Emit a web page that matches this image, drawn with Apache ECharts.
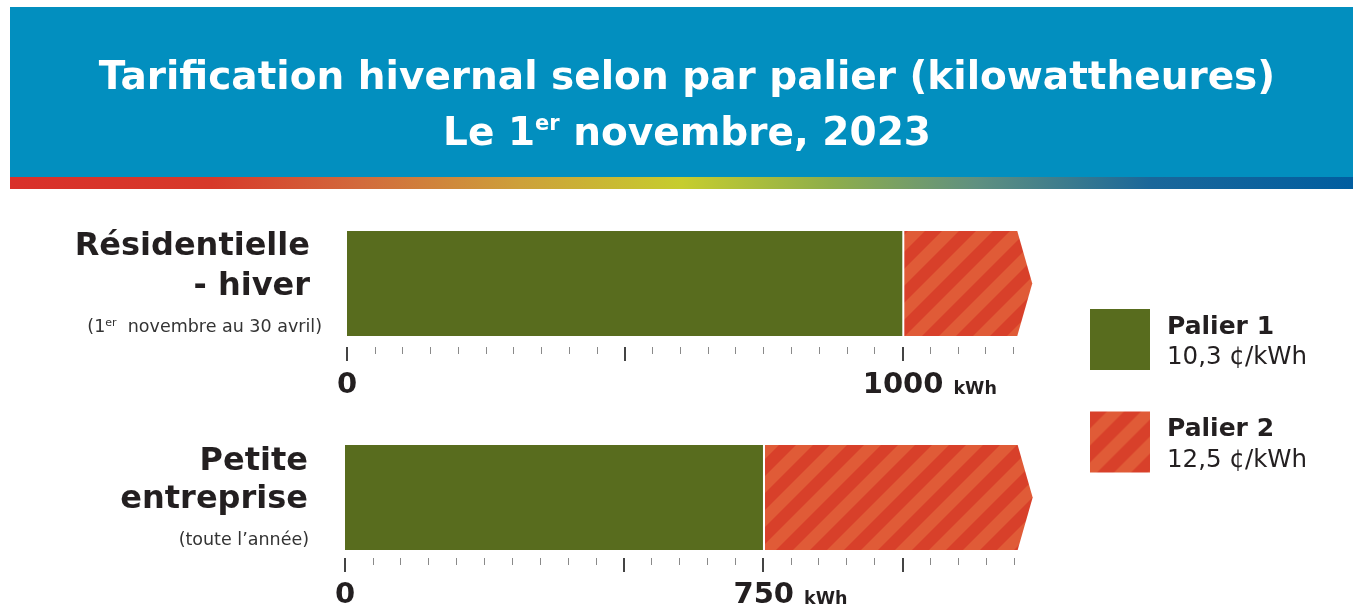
<!DOCTYPE html>
<html>
<head>
<meta charset="utf-8">
<script src="https://cdn.jsdelivr.net/npm/echarts@6/dist/echarts.min.js"></script>
<style>
  html, body { margin: 0; padding: 0; background: #fff; }
  #chart { width: 1353px; height: 611px; }
</style>
</head>
<body>
<div id="chart"></div>
<script>
// données
var categories = ['Résidentielle\n- hiver', 'Petite\nentreprise'];
var subLabels = ['(1er  novembre au 30 avril)', '(toute l’année)'];
var palier1 = [1000, 750];
var barEnd = [1207, 1207];
var tickEnd = 1200;
var tierNames = ['Palier 1', 'Palier 2'];
var tierRates = ['10,3 ¢/kWh', '12,5 ¢/kWh'];
var majorTicks = [[0, 500, 1000], [0, 500, 750, 1000]];
var tickLabels = [[0, 1000], [0, 750]];
var minorStep = 50;
var axisMax = 1300;

var green = '#586c1e';
var font = 'DejaVu Sans';

// motif hachuré pour le palier 2
function makeHatch() {
  var s = 34;
  var c = document.createElement('canvas');
  c.width = s; c.height = s;
  var g = c.getContext('2d');
  g.fillStyle = '#e05b37';
  g.fillRect(0, 0, s, s);
  g.fillStyle = '#d8402a';
  g.beginPath();
  g.moveTo(0, 0); g.lineTo(s / 2, 0); g.lineTo(0, s / 2);
  g.closePath(); g.fill();
  g.beginPath();
  g.moveTo(s, 0); g.lineTo(s, s / 2); g.lineTo(s / 2, s); g.lineTo(0, s);
  g.closePath(); g.fill();
  return { image: c, repeat: 'repeat' };
}
var hatch = makeHatch();

var minorTicks = [];
for (var v = 0; v <= tickEnd; v += minorStep) minorTicks.push(v);

var chart = echarts.init(document.getElementById('chart'));

var grids = [
  { left: 347, top: 231, width: axisMax * 0.5553, height: 105 },
  { left: 345, top: 445, width: axisMax * 0.5573, height: 105 }
];
var axisOffset = [11, 8];
var labelMargin = [22, 21];

var xAxes = [];
var yAxes = [];
var series = [];

function tickFormatter(v) {
  if (v === 0) return '{n|0}';
  return '{sp|}{n|' + v + '}{u|kWh}';
}

var yRich = [
  {
    t: { fontFamily: font, fontSize: 32, fontWeight: 'bold', color: '#231f20', lineHeight: 40, padding: [0, 12, 0, 0] },
    s: { fontFamily: font, fontSize: 17.5, color: '#333', lineHeight: 40 },
    sup: { fontFamily: font, fontSize: 11, color: '#333', lineHeight: 11, padding: [0, 0, 8, 0] }
  },
  {
    t: { fontFamily: font, fontSize: 32, fontWeight: 'bold', color: '#231f20', lineHeight: 38, padding: [0, 12, 0, 0] },
    s: { fontFamily: font, fontSize: 17.5, color: '#333', lineHeight: 44, padding: [0, 11, 0, 0] },
    sup: { fontFamily: font, fontSize: 11, color: '#333', lineHeight: 11, padding: [0, 0, 8, 0] }
  }
];
var yPad = [[7, 0, 0, 0], [10, 0, 0, 0]];

categories.forEach(function (cat, i) {
  // petites graduations
  xAxes.push({
    gridIndex: i, type: 'value', min: 0, max: axisMax, position: 'bottom',
    offset: axisOffset[i],
    axisLine: { show: false }, splitLine: { show: false },
    axisLabel: { show: false },
    axisTick: { show: true, length: 7, customValues: minorTicks, lineStyle: { color: '#8a8a8a', width: 1 } }
  });
  // grandes graduations + étiquettes
  xAxes.push({
    gridIndex: i, type: 'value', min: 0, max: axisMax, position: 'bottom',
    offset: axisOffset[i],
    axisLine: { show: false }, splitLine: { show: false },
    axisTick: { show: true, length: 14, customValues: majorTicks[i], lineStyle: { color: '#444', width: 2 } },
    axisLabel: {
      show: true, margin: labelMargin[i], customValues: tickLabels[i],
      formatter: tickFormatter,
      rich: {
        n: { fontFamily: font, fontSize: 29, fontWeight: 'bold', color: '#231f20', lineHeight: 32 },
        u: { fontFamily: font, fontSize: 17.5, fontWeight: 'bold', color: '#231f20', lineHeight: 18, padding: [9, 0, 0, 10] },
        sp: { width: 55 }
      }
    }
  });
  yAxes.push({
    gridIndex: i, type: 'category', data: [cat],
    axisLine: { show: false }, axisTick: { show: false }, splitLine: { show: false },
    axisLabel: {
      margin: 25, align: 'right', padding: yPad[i],
      formatter: function (name) {
        var lines = name.split('\n').map(function (l) { return '{t|' + l + '}'; });
        var sub = '{s|' + subLabels[i].replace('1er', '1}{sup|er}{s|') + '}';
        return lines.join('\n') + '\n' + sub;
      },
      rich: yRich[i]
    }
  });
  series.push({
    name: tierNames[0], type: 'bar', xAxisIndex: i * 2, yAxisIndex: i,
    data: [palier1[i]], barCategoryGap: '0%', barWidth: '100%',
    itemStyle: { color: green }, silent: true
  });
  series.push({
    name: tierNames[1], type: 'custom', xAxisIndex: i * 2, yAxisIndex: i,
    data: [[palier1[i], barEnd[i], 0]],
    itemStyle: { color: hatch },
    silent: true,
    renderItem: function (params, api) {
      var p0 = api.coord([api.value(0), api.value(2)]);
      var p1 = api.coord([api.value(1), api.value(2)]);
      var h = api.size([0, 1])[1];
      var top = p0[1] - h / 2, bot = p0[1] + h / 2;
      return {
        type: 'polygon',
        shape: { points: [[p0[0] + 2, top], [p1[0], top], [p1[0] + 15, p0[1]], [p1[0], bot], [p0[0] + 2, bot]] },
        style: { fill: hatch }
      };
    }
  });
});

chart.setOption({
  animation: false,
  graphic: [
    { type: 'rect', z: 0, shape: { x: 10, y: 7, width: 1343, height: 170 }, style: { fill: '#028fbf' } },
    {
      type: 'rect', z: 0, shape: { x: 10, y: 177, width: 1343, height: 12 },
      style: {
        fill: new echarts.graphic.LinearGradient(0, 0, 1, 0, [
          { offset: 0, color: '#d9302a' },
          { offset: 0.15, color: '#d7392a' },
          { offset: 0.26, color: '#d26a3c' },
          { offset: 0.38, color: '#cda03a' },
          { offset: 0.5, color: '#c6cd2e' },
          { offset: 0.61, color: '#8fae4a' },
          { offset: 0.72, color: '#5f9080' },
          { offset: 0.85, color: '#1a679a' },
          { offset: 1, color: '#015ea0' }
        ])
      }
    }
  ],
  title: [
    {
      text: 'Tarification hivernal selon par palier (kilowattheures)',
      left: 682, top: 49, textAlign: 'center',
      textStyle: { fontFamily: font, fontSize: 39, fontWeight: 'bold', color: '#fff', lineHeight: 50 }
    },
    {
      text: '{a|Le 1}{sup|er}{a| novembre, 2023}',
      left: 682, top: 105, textAlign: 'center',
      textStyle: {
        rich: {
          a: { fontFamily: font, fontSize: 39, fontWeight: 'bold', color: '#fff', lineHeight: 50 },
          sup: { fontFamily: font, fontSize: 21, fontWeight: 'bold', color: '#fff', lineHeight: 21, padding: [0, 0, 20, 0] }
        }
      }
    }
  ],
  legend: {
    left: 1090, top: 309, orient: 'vertical', icon: 'rect', padding: 0,
    itemWidth: 60, itemHeight: 61, itemGap: 41, selectedMode: false,
    data: [
      { name: tierNames[0], itemStyle: { color: green } },
      { name: tierNames[1], itemStyle: { color: hatch } }
    ],
    formatter: function (name) {
      return '{b|' + name + '}\n{r|' + tierRates[tierNames.indexOf(name)] + '}';
    },
    textStyle: {
      rich: {
        b: { fontFamily: font, fontSize: 25, fontWeight: 'bold', color: '#231f20', lineHeight: 37, padding: [0, 0, 0, 12] },
        r: { fontFamily: font, fontSize: 24.5, color: '#231f20', lineHeight: 25, padding: [0, 0, 0, 12] }
      }
    }
  },
  grid: grids,
  xAxis: xAxes,
  yAxis: yAxes,
  series: series
});
</script>
</body>
</html>
